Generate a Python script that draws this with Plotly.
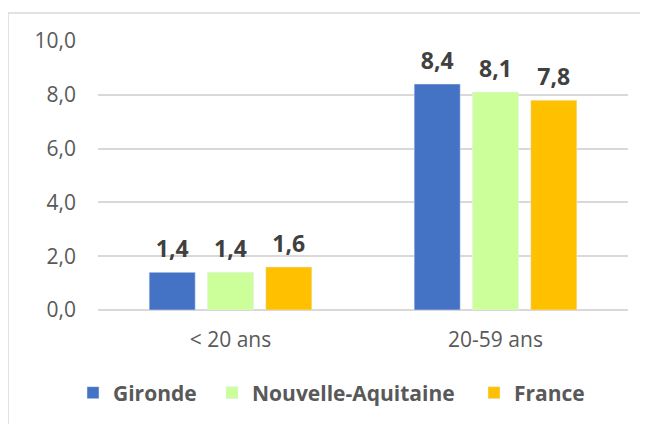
import plotly.graph_objects as go

categories = ["< 20 ans", "20-59 ans"]
series_names = ["Gironde", "Nouvelle-Aquitaine", "France"]
gironde = [1.4, 8.4]
nouvelle_aquitaine = [1.4, 8.1]
france = [1.6, 7.8]
colors = ["#4472C4", "#CCFF99", "#FFC000"]

FONT = "Open Sans"
L, R, T, B = 90, 28, 33, 122
W, H = 648, 424
pw, ph = W - L - R, H - T - B

legend_ids = ["legend", "legend2", "legend3"]
legend_left_px = [65, 204, 466]

fig = go.Figure()
for i, (name, vals, col) in enumerate(zip(series_names, [gironde, nouvelle_aquitaine, france], colors)):
    fig.add_trace(go.Bar(
        x=categories, y=vals, name=name, marker_color=col,
        offsetgroup=str(i), hoverinfo="skip", legend=legend_ids[i],
    ))
for i, (name, vals) in enumerate(zip(series_names, [gironde, nouvelle_aquitaine, france])):
    fig.add_trace(go.Scatter(
        x=categories, y=vals, mode="markers+text", offsetgroup=str(i),
        marker=dict(size=13, opacity=0), showlegend=False,
        text=[f"{v:.1f}".replace(".", ",") for v in vals], textposition="top center",
        textfont=dict(family=FONT, size=23, color="#404040", weight="bold"),
        cliponaxis=False,
    ))

fig.add_shape(type="rect", xref="paper", yref="paper",
              x0=(0.0 - L) / pw, x1=(660 - L) / pw,
              y0=(H - B - 440) / ph, y1=(H - B - 5) / ph,
              line=dict(color="#d9d9d9", width=1.5), fillcolor="rgba(0,0,0,0)", layer="below")

legend_common = dict(orientation="h", xanchor="left", y=(H - B - 385) / ph, yanchor="middle",
                     font=dict(size=21, color="#595959", weight="bold"), itemwidth=30,
                     bgcolor="rgba(0,0,0,0)")
layout_legends = {}
for lid, lx in zip(legend_ids, legend_left_px):
    layout_legends[lid] = dict(legend_common, x=(lx - L) / pw)

fig.update_layout(
    width=W, height=H,
    margin=dict(l=L, r=R, t=T, b=B),
    paper_bgcolor="white", plot_bgcolor="white",
    barmode="group", bargap=0.34, bargroupgap=0.21,
    scattermode="group", scattergap=0.34,
    separators=", ",
    font=dict(family=FONT, color="#595959"),
    xaxis=dict(showgrid=False, showline=False, ticks="",
               tickfont=dict(size=21, color="#595959"), ticklabelstandoff=15),
    yaxis=dict(range=[0, 10], dtick=2, tickformat=".1f",
               gridcolor="#d9d9d9", gridwidth=1.5, zeroline=True,
               zerolinecolor="#d9d9d9", zerolinewidth=1.5,
               tickfont=dict(size=21, color="#595959"), ticklabelstandoff=21),
    showlegend=True,
    **layout_legends,
)
fig.write_html("out.html")
